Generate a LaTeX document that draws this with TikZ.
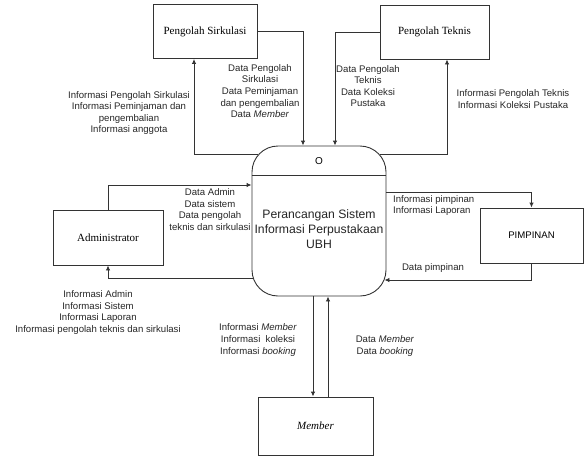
\documentclass[tikz,border=0pt]{standalone}
\usepackage{fontspec}
\setmainfont{Liberation Sans}
\newfontfamily\entfont{Liberation Serif}
\usetikzlibrary{arrows.meta}
\begin{document}
\begin{tikzpicture}[x=1pt,y=-1pt]
		\tikzstyle{entity}=[rectangle,draw=black!80,line width=0.9pt,fill=white,inner sep=0pt,font=\entfont\fontsize{11}{13}\selectfont]
		\tikzstyle{process}=[rectangle,rounded corners=26pt,draw=black!80,line width=0.9pt,fill=white,minimum width=134pt,minimum height=150pt]
		\tikzstyle{flowtext}=[align=center,inner sep=0pt,text=black!85,font=\fontsize{9.6}{11.6}\selectfont]
		\tikzstyle{flow}=[draw=black!80,line width=0.9pt,-{Latex[length=5pt,width=4.5pt]}]
		\useasboundingbox (0,0) rectangle (584,458);
		% entities and process
		\node [entity,minimum width=104pt,minimum height=54pt] (sirk) at (205,31.5) {Pengolah Sirkulasi};
		\node [entity,minimum width=109pt,minimum height=54pt] (tek) at (434.5,32) {Pengolah Teknis};
		\node [entity,minimum width=110pt,minimum height=55pt] (adm) at (108,237.5) {Administrator};
		\node [entity,minimum width=103pt,minimum height=55pt,font=\fontsize{9.6}{11}\selectfont] (pim) at (531.5,235.5) {PIMPINAN};
		\node [entity,minimum width=115pt,minimum height=58pt] (mem) at (315.5,426) {\textit{Member}};
		\node [process] (proc) at (319,221) {};
		\coordinate (hdr) at (0,175);
		\draw [draw=black!80,line width=0.9pt] (proc.west |- hdr) -- (proc.east |- hdr);
		\node [font=\fontsize{10}{12}\selectfont] (pid) at (319,161) {O};
		\node [align=center,font=\fontsize{12.2}{15}\selectfont,text=black!85] (ptext) at (319,229) {Perancangan Sistem\\Informasi Perpustakaan\\UBH};
		% flows
		\path[flow] (sirk.east) -| ([xshift=-16pt]proc.north);
		\path[flow] (tek.west) -| ([xshift=16pt]proc.north);
		\path[flow] ([xshift=6.3pt,yshift=-9pt]proc.north west) -| (sirk.south -| 194,0);
		\path[flow] ([xshift=-6.3pt,yshift=-9pt]proc.north east) -| (tek.south -| 447,0);
		\path[flow] (adm.north) |- ([yshift=36pt]proc.west);
		\path[flow] ([xshift=1.3pt,yshift=-57pt]proc.west) -| (adm.south);
		\path[flow] ([yshift=29pt]proc.east) -| (pim.north);
		\path[flow] (pim.south) |- ([xshift=-2pt,yshift=-59pt]proc.east);
		\path[flow] ([xshift=-6pt]proc.south) -- ([xshift=-6pt]proc.south |- mem.north);
		\path[flow] ([xshift=9pt]proc.south |- mem.north) -- ([xshift=9pt]proc.south);
		% labels
		\node [flowtext] (lsirkin) at (260,91) {Data Pengolah\\Sirkulasi\\Data Peminjaman\\dan pengembalian\\Data \textit{Member}};
		\node [flowtext] (ltekin) at (368,86) {Data Pengolah\\Teknis\\Data Koleksi\\Pustaka};
		\node [flowtext] (lsirkout) at (129,113) {Informasi Pengolah Sirkulasi\\Informasi Peminjaman dan\\pengembalian\\Informasi anggota};
		\node [flowtext] (ltekout) at (513,99) {Informasi Pengolah Teknis\\Informasi Koleksi Pustaka};
		\node [flowtext] (ladmin) at (210,209.5) {Data Admin\\Data sistem\\Data pengolah\\teknis dan sirkulasi};
		\node [flowtext] (ladmout) at (98,312.5) {Informasi Admin\\Informasi Sistem\\Informasi Laporan\\Informasi pengolah teknis dan sirkulasi};
		\node [flowtext,anchor=west,align=left] (lpimin) at (393,205.5) {Informasi pimpinan\\Informasi Laporan};
		\node [flowtext] (lpimout) at (433,268) {Data pimpinan};
		\node [flowtext] (lmemin) at (258,340) {Informasi \textit{Member}\\Informasi\ \ koleksi\\Informasi \textit{booking}};
		\node [flowtext] (lmemout) at (385,346) {Data \textit{Member}\\Data \textit{booking}};
\end{tikzpicture}
\end{document}
